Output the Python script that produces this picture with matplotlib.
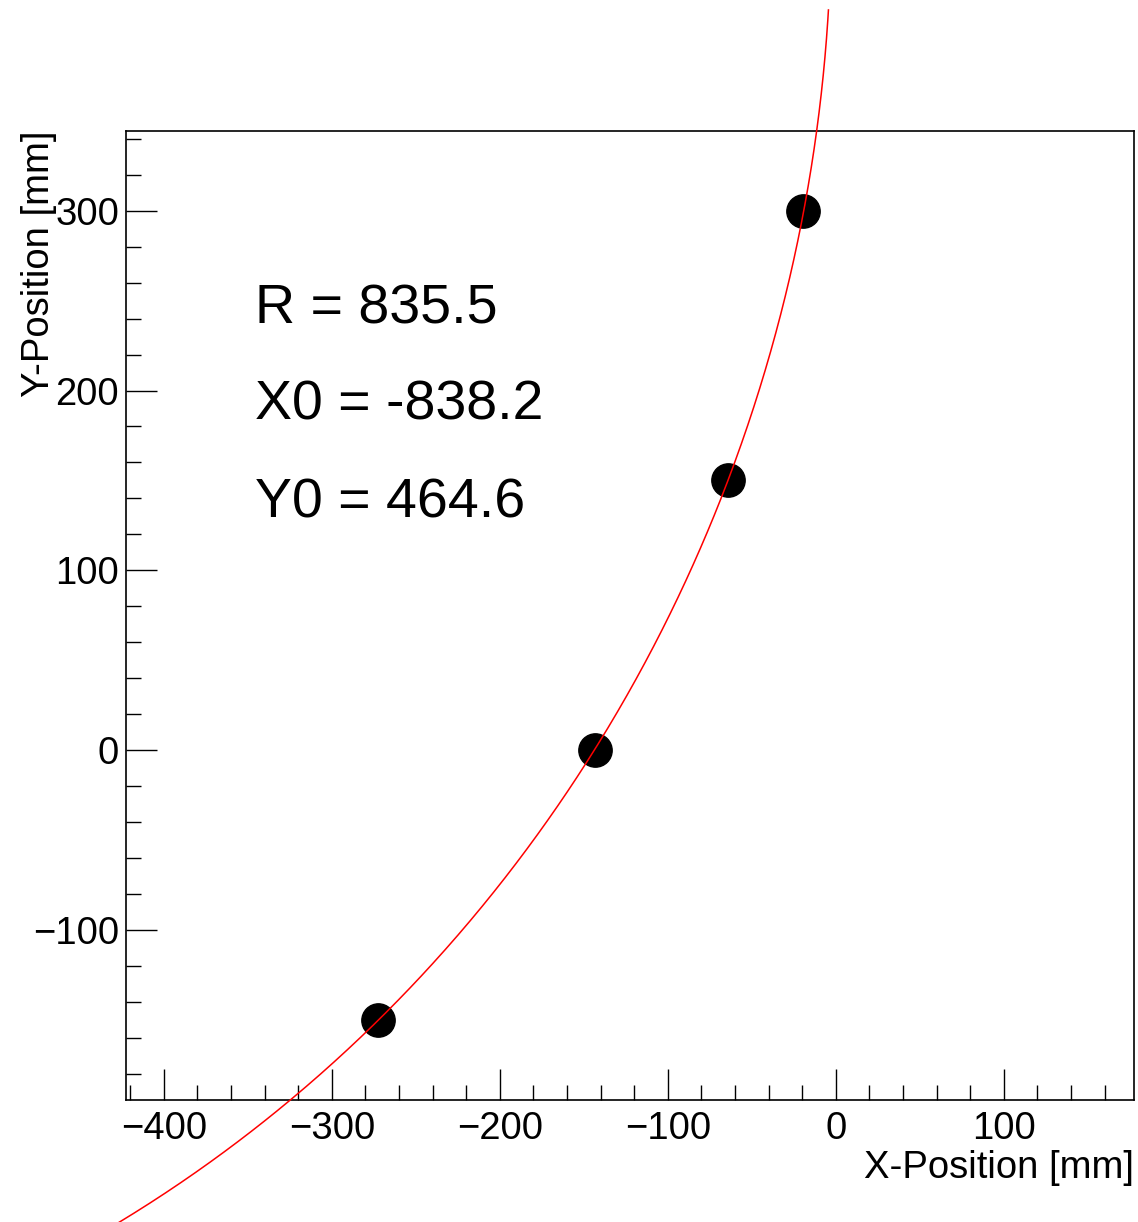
import numpy as np
import matplotlib
matplotlib.use("Agg")
import matplotlib.pyplot as plt
from matplotlib.ticker import MultipleLocator

plt.rcParams["font.family"] = ["Liberation Sans", "DejaVu Sans"]

# Measured points
x_pos = [-272.6, -143.5, -64.3, -19.6]
y_pos = [-150, 0, 150, 300]

# Circle fit parameters
R = 835.5
X0 = -838.2
Y0 = 464.6

fig = plt.figure(figsize=(11.38, 12.22), dpi=100)
ax = fig.add_axes([0.1107, 0.0998, 0.8858, 0.7930])

# Fitted circle (right branch), drawn outside the frame like ROOT does
y_fit = np.linspace(-270, 411.6, 600)
x_fit = X0 + np.sqrt(R**2 - (y_fit - Y0) ** 2)
ax.plot(x_fit, y_fit, color="red", lw=1.1, clip_on=False, zorder=3)

ax.plot(x_pos, y_pos, "o", color="black", markersize=24, zorder=2)

ax.set_xlim(-422.5, 177.5)
ax.set_ylim(-194.5, 344.3)

ax.xaxis.set_major_locator(MultipleLocator(100))
ax.xaxis.set_minor_locator(MultipleLocator(20))
ax.yaxis.set_major_locator(MultipleLocator(100))
ax.yaxis.set_minor_locator(MultipleLocator(20))
ax.tick_params(which="both", direction="in", top=False, right=False,
               width=1.0, labelsize=27.5, color="black")
ax.tick_params(which="major", length=22)
ax.tick_params(which="minor", length=11)
ax.tick_params(axis="x", which="major", pad=8)
ax.tick_params(axis="y", which="major", pad=5)

for s in ax.spines.values():
    s.set_linewidth(1.2)

ax.set_xlabel("X-Position [mm]", fontsize=27.5, loc="right", labelpad=2)
ax.set_ylabel("Y-Position [mm]", fontsize=27.5, loc="top", labelpad=-17)

ax.text(-345.8, 237.5, "R = 835.5", fontsize=40)
ax.text(-345.8, 184.0, "X0 = -838.2", fontsize=40)
ax.text(-345.8, 129.5, "Y0 = 464.6", fontsize=40)

fig.savefig("out.png", dpi=100)
